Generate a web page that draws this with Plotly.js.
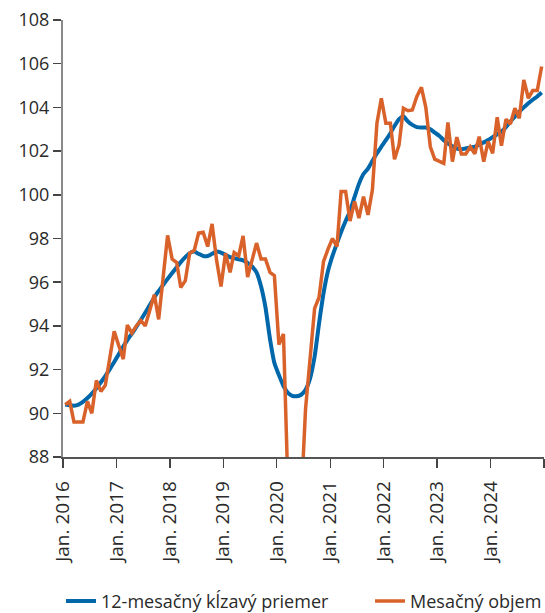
<!DOCTYPE html>
<html>
<head>
<meta charset="utf-8">
<script src="https://cdn.plot.ly/plotly-3.0.1.min.js"></script>
<style>html,body{margin:0;padding:0;background:#fff;}#chart{width:545px;height:613px;}</style>
</head>
<body>
<div id="chart"></div>
<script>
// Monthly observations, Jan 2016 – Dec 2024
const startYear = 2016;
const monthCount = 108;

const movingAverage = [
  90.40, 90.37, 90.35, 90.40, 90.52, 90.70, 90.90, 91.15, 91.42, 91.70, 92.02, 92.35,
  92.70, 93.06, 93.35, 93.65, 93.95, 94.27, 94.60, 94.95, 95.30, 95.60, 95.88, 96.15,
  96.42, 96.68, 96.92, 97.15, 97.33, 97.40, 97.30, 97.20, 97.20, 97.30, 97.40, 97.35,
  97.25, 97.15, 97.10, 97.05, 97.00, 96.88, 96.72, 96.45, 95.80, 94.85, 93.40, 92.30,
  91.75, 91.25, 90.95, 90.80, 90.78, 90.85, 91.08, 91.60, 92.60, 94.10, 95.50, 96.50,
  97.20, 97.79, 98.30, 98.80, 99.25, 99.90, 100.50, 100.95, 101.20, 101.55, 101.90, 102.20,
  102.50, 102.82, 103.15, 103.46, 103.58, 103.35, 103.20, 103.10, 103.08, 103.08, 103.00, 102.85,
  102.70, 102.50, 102.35, 102.22, 102.12, 102.09, 102.12, 102.17, 102.20, 102.30, 102.40, 102.51,
  102.64, 102.77, 102.89, 103.10, 103.35, 103.58, 103.80, 104.00, 104.19, 104.35, 104.50, 104.68
];

const monthlyVolume = [
  90.40, 90.55, 89.60, 89.60, 89.60, 90.55, 90.00, 91.50, 91.00, 91.28, 92.50, 93.75,
  93.10, 92.48, 94.04, 93.67, 94.00, 94.25, 94.00, 94.70, 95.43, 94.30, 96.20, 98.14,
  97.06, 96.90, 95.76, 96.07, 97.33, 97.45, 98.25, 98.29, 97.63, 98.67, 97.00, 95.80,
  97.33, 96.45, 97.36, 97.20, 98.12, 96.24, 97.00, 97.79, 97.06, 97.06, 96.45, 96.30,
  93.14, 93.63, 87.00, 70.00, 80.00, 86.00, 90.20, 92.50, 94.80, 95.30, 96.95, 97.50,
  98.00, 97.63, 100.15, 100.15, 98.80, 99.70, 98.93, 99.92, 99.08, 100.23, 103.28, 104.42,
  103.28, 103.28, 101.63, 102.28, 103.96, 103.85, 103.88, 104.50, 104.92, 104.00, 102.20, 101.63,
  101.52, 101.44, 103.31, 101.52, 102.64, 101.87, 101.87, 102.20, 101.87, 102.66, 101.52, 102.44,
  101.90, 103.55, 102.25, 103.46, 103.24, 103.96, 103.50, 105.26, 104.42, 104.77, 104.77, 105.87
];

const seriesNames = ["12-mesačný kĺzavý priemer", "Mesačný objem"];

const tickDates = ["2016-01-01","2017-01-01","2018-01-01","2019-01-01","2020-01-01",
                   "2021-01-01","2022-01-01","2023-01-01","2024-01-01","2025-01-01"];
const tickLabels = ["Jan. 2016","Jan. 2017","Jan. 2018","Jan. 2019","Jan. 2020",
                    "Jan. 2021","Jan. 2022","Jan. 2023","Jan. 2024",""];

const yTicks = [88, 90, 92, 94, 96, 98, 100, 102, 104, 106, 108];

// month positions (mid-month)
const months = [];
for (let i = 0; i < monthCount; i++) {
  const y = startYear + Math.floor(i / 12);
  const m = (i % 12) + 1;
  months.push(y + "-" + String(m).padStart(2, "0") + "-16");
}

const font = "Open Sans, Noto Sans, sans-serif";
const textColor = "#2a2a2a";

const traces = [
  {
    x: months, y: movingAverage, name: seriesNames[0], type: "scatter", mode: "lines",
    legend: "legend",
    line: { color: "#0067aa", width: 4, shape: "spline", smoothing: 0.6 }
  },
  {
    x: months, y: monthlyVolume, name: seriesNames[1], type: "scatter", mode: "lines",
    legend: "legend2",
    line: { color: "#d9622b", width: 3.5 }
  }
];

const legendCommon = {
  orientation: "h", xref: "container", yref: "container",
  xanchor: "left", y: 0.019, yanchor: "middle",
  font: { family: font, size: 18, color: textColor },
  itemwidth: 30, bgcolor: "rgba(0,0,0,0)"
};

const layout = {
  width: 545, height: 613,
  margin: { l: 63, r: 1, t: 20, b: 156 },
  paper_bgcolor: "#fff", plot_bgcolor: "#fff",
  font: { family: font, size: 18, color: textColor },
  showlegend: true,
  legend: Object.assign({}, legendCommon, { x: 61 / 545 }),
  legend2: Object.assign({}, legendCommon, { x: 370 / 545 }),
  xaxis: {
    type: "date", range: ["2016-01-01", "2025-01-01"],
    tickmode: "array", tickvals: tickDates, ticktext: tickLabels,
    tickangle: -90, ticks: "outside", ticklen: 9, tickwidth: 1.5, tickcolor: "#444",
    ticklabelstandoff: 6,
    showline: true, linecolor: "#555", linewidth: 1.5,
    showgrid: false, zeroline: false,
    tickfont: { family: font, size: 19, color: textColor }
  },
  yaxis: {
    range: [88, 108], tickmode: "array", tickvals: yTicks,
    ticks: "outside", ticklen: 8, tickwidth: 1.5, tickcolor: "#444",
    showline: true, linecolor: "#8a8a8a", linewidth: 2,
    showgrid: false, zeroline: false,
    tickfont: { family: font, size: 18, color: textColor }
  }
};

Plotly.newPlot("chart", traces, layout, { displayModeBar: false, staticPlot: true });
</script>
</body>
</html>
